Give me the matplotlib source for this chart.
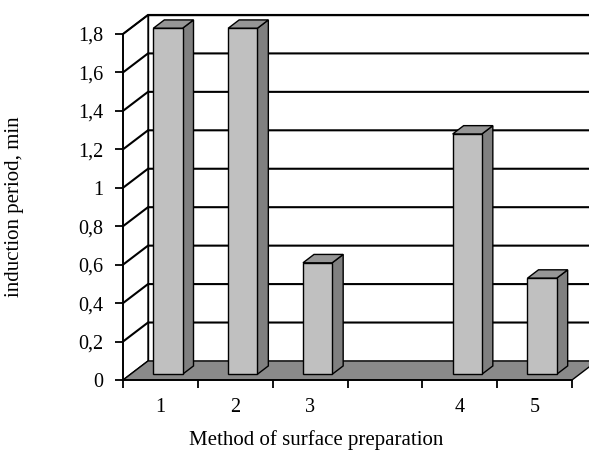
import matplotlib
matplotlib.use("Agg")
import matplotlib.pyplot as plt
import matplotlib.patches as patches

# data
categories = ["1", "2", "3", "", "4", "5"]
values = [1.8, 1.8, 0.58, 0.0, 1.25, 0.5]
yticks = [0, 0.2, 0.4, 0.6, 0.8, 1.0, 1.2, 1.4, 1.6, 1.8]
ytick_labels = ["0", "0,2", "0,4", "0,6", "0,8", "1", "1,2", "1,4", "1,6", "1,8"]
ylabel = "induction period, min"
xlabel = "Method of surface preparation"

# fake 3d settings (depth offset in data units)
DX = 0.334
DY = 0.099
BAR_W = 0.39
D0, D1 = 0.3, 0.74

FRONT = "#c0c0c0"
SIDE = "#808080"
TOP = "#969696"
FLOOR = "#8a8a8a"

plt.rcParams["font.family"] = ["Liberation Serif", "DejaVu Serif"]

fig = plt.figure(figsize=(5.89, 4.53), dpi=100)
ax = fig.add_axes([123 / 589, 73 / 453, 449 / 589, 346 / 453])
n = len(categories)
ymax = yticks[-1]
ax.set_xlim(0, n)
ax.set_ylim(0, ymax)


def poly(pts, fc, z=2, lw=1.0):
    p = patches.Polygon(pts, closed=True, fc=fc, ec="black", lw=lw,
                        zorder=z, clip_on=False, joinstyle="miter")
    ax.add_patch(p)


# back wall, left wall, floor
poly([(DX, DY), (n + DX, DY), (n + DX, ymax + DY), (DX, ymax + DY)], "white", z=1)
poly([(0, 0), (DX, DY), (DX, ymax + DY), (0, ymax)], "white", z=1)

# gridlines
for v in yticks[1:]:
    ax.plot([0, DX, n + DX], [v, v + DY, v + DY], color="black", lw=1.5,
            zorder=1.5, clip_on=False, solid_joinstyle="miter")

poly([(0, 0), (n, 0), (n + DX, DY), (DX, DY)], FLOOR, z=1.8)

# bars
for i, v in enumerate(values):
    if v <= 0:
        continue
    c = i + 0.5
    x0 = c - BAR_W / 2 + D0 * DX
    x1 = c + BAR_W / 2 + D0 * DX
    y0 = D0 * DY
    ddx = (D1 - D0) * DX
    ddy = (D1 - D0) * DY
    poly([(x1, y0), (x1 + ddx, y0 + ddy), (x1 + ddx, v + y0 + ddy), (x1, v + y0)], SIDE, z=3)
    poly([(x0, v + y0), (x1, v + y0), (x1 + ddx, v + y0 + ddy), (x0 + ddx, v + y0 + ddy)], TOP, z=3)
    poly([(x0, y0), (x1, y0), (x1, v + y0), (x0, v + y0)], FRONT, z=4)

# axes look
for s in ["top", "right"]:
    ax.spines[s].set_visible(False)
for s in ["left", "bottom"]:
    ax.spines[s].set_linewidth(1.3)
    ax.spines[s].set_zorder(5)

ax.set_yticks(yticks)
ax.set_yticklabels(ytick_labels, fontsize=14.5)
ax.set_xticks(range(n + 1))
ax.set_xticklabels([""] * (n + 1))
ax.set_xticks([i + 0.5 for i in range(n)], minor=True)
ax.set_xticklabels(categories, minor=True, fontsize=14.5)
ax.tick_params(axis="y", length=6, width=1.3, pad=8)
ax.tick_params(axis="x", which="major", length=6, width=1.3)
ax.tick_params(axis="x", which="minor", length=0, pad=13)

fig.text(316 / 589, 1 - 440 / 453, xlabel, fontsize=15, ha="center", va="center")
fig.text(15 / 589, 1 - 207 / 453, ylabel, fontsize=15, ha="center", va="center",
         rotation=90)

fig.savefig("out.png", dpi=100)
